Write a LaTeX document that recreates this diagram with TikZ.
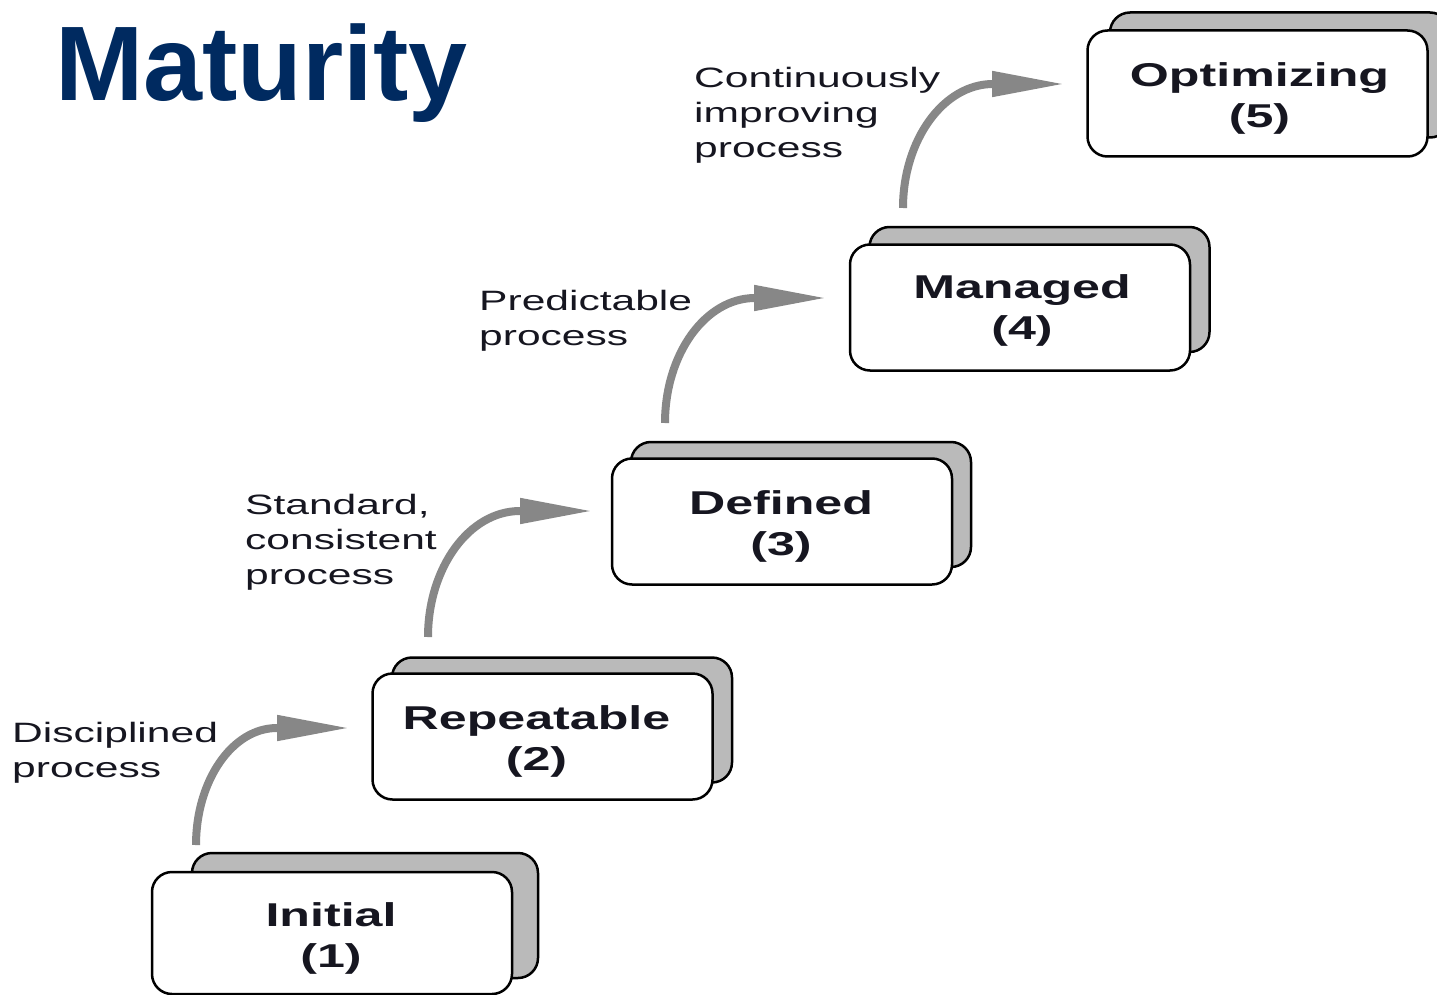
\documentclass[tikz,border=0pt]{standalone}
\usepackage{fontspec}
\setmainfont{Liberation Sans}
\newfontfamily\widefont[FakeStretch=1.52]{Liberation Sans}
\usetikzlibrary{arrows.meta,calc}
\definecolor{titleblue}{RGB}{0,42,96}
\definecolor{inkdark}{RGB}{22,22,32}
\definecolor{stepgray}{RGB}{186,186,186}
\definecolor{arrowgray}{RGB}{135,135,135}

\begin{document}
\begin{tikzpicture}[x=1pt,y=-1pt,
  backcard/.style={draw=black, line width=2.5pt, fill=stepgray, rounded corners=20pt,
    minimum width=340pt, minimum height=125pt, inner sep=0pt},
  frontcard/.style={draw=black, line width=2.5pt, fill=white, rounded corners=20pt,
    minimum width=340pt, minimum height=126pt, inner sep=0pt},
  cardtext/.style={text=inkdark, font=\widefont\bfseries\fontsize{33}{41}\selectfont,
    align=center, inner sep=0pt},
  note/.style={text=inkdark, font=\widefont\fontsize{28}{35}\selectfont,
    align=left, inner sep=0pt, anchor=north west},
  climb/.style={draw=arrowgray, line width=8pt, -{Triangle[length=73pt,width=24pt]}},
]
\useasboundingbox (0,0) rectangle (1437,995);
\clip (0,0) rectangle (1437,995);

% title
\node[anchor=base west, text=titleblue, inner sep=0pt,
  font=\bfseries\fontsize{106}{110}\selectfont] (title) at (55,101) {Maturity};

% level cards: grey card behind, white card in front
\node[backcard, minimum width=346pt] (k1) at (365,915.5) {};
\node[frontcard, minimum width=360pt, minimum height=122pt] (f1) at (332,933) {};
\node[cardtext] (t1) at ($(f1.center)+(-1,5)$) {Initial\\(1)};

\node[backcard] (k2) at (562,720) {};
\node[frontcard] (f2) at (542.5,736.5) {};
\node[cardtext] (t2) at ($(f2.center)+(-6,5)$) {Repeatable\\(2)};

\node[backcard] (k3) at (801,504.5) {};
\node[frontcard] (f3) at (782,521.5) {};
\node[cardtext] (t3) at ($(f3.center)+(-1,5)$) {Defined\\(3)};

\node[backcard] (k4) at (1039.5,289.5) {};
\node[frontcard] (f4) at (1020,307.5) {};
\node[cardtext] (t4) at ($(f4.center)+(2,3)$) {Managed\\(4)};

\node[backcard] (k5) at (1280,75) {};
\node[frontcard] (f5) at (1257.5,93.5) {};
\node[cardtext] (t5) at ($(f5.center)+(2,5)$) {Optimizing\\(5)};

% transition notes
\node[note] (n1) at (12,722) {Disciplined\\process};
\node[note] (n2) at (245,494) {Standard,\\consistent\\process};
\node[note] (n3) at (479,290) {Predictable\\process};
\node[note] (n4) at (694,67) {Continuously\\improving\\process};

% curved step arrows
\coordinate (s1) at (196,845); \coordinate (b1) at (277,728); \coordinate (e1) at (350,728);
\coordinate (s2) at (428,637); \coordinate (b2) at (520,511); \coordinate (e2) at (593,511);
\coordinate (s3) at (665,423); \coordinate (b3) at (755,298); \coordinate (e3) at (827,298);
\coordinate (s4) at (903,208); \coordinate (b4) at (993,84);  \coordinate (e4) at (1065,84);

\draw[climb] (s1) .. controls (196,781) and (232,728) .. (b1) -- (e1);
\draw[climb] (s2) .. controls (428,568) and (469,511) .. (b2) -- (e2);
\draw[climb] (s3) .. controls (665,354) and (705.5,298) .. (b3) -- (e3);
\draw[climb] (s4) .. controls (903,140) and (943.5,84) .. (b4) -- (e4);
\end{tikzpicture}
\end{document}
